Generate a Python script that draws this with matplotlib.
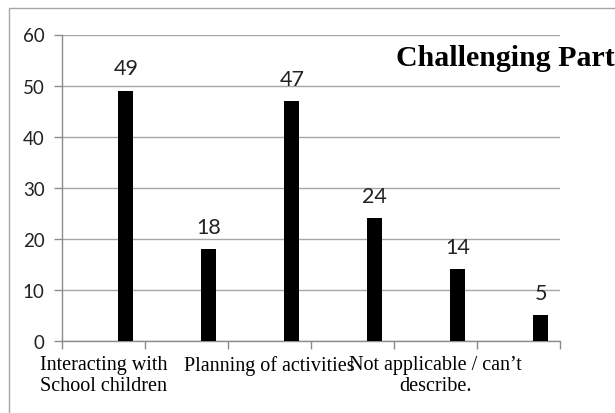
import numpy as np
import matplotlib
matplotlib.use("Agg")
import matplotlib.pyplot as plt
from matplotlib.patches import Rectangle

# responses per category; only every other label fits under the axis
categories = ["Interacting with\nSchool children", "",
              "Planning of activities", "",
              "Not applicable / can\u2019t\ndescribe.", ""]
counts = [49, 18, 47, 24, 14, 5]
yticks = [0, 10, 20, 30, 40, 50, 60]

grid_grey = "#a6a6a6"
axis_grey = "#8c8c8c"

fig = plt.figure(figsize=(6.15, 4.14), dpi=100)
ax = fig.add_axes([62 / 615, 1 - 342 / 414, (560 - 62) / 615, (342 - 35.5) / 414])

# outer chart-area border (only the left and top edges fall inside the image)
fig.patches.append(Rectangle((9.3 / 615, -0.1), 1.2, 1 - 9.3 / 414 + 0.1,
                             transform=fig.transFigure, fill=False,
                             edgecolor=grid_grey, linewidth=1.0))

x = np.arange(len(counts))
bars = ax.bar(x + 0.27, counts, width=0.18, color="black", zorder=3)

for b, v in zip(bars, counts):
    ax.annotate(str(v), (b.get_x() + b.get_width() / 2, v),
                xytext=(0, 11.8), textcoords="offset points",
                ha="center", va="baseline", fontsize=15.5, family="Lato",
                color="#222222")

ax.set_xlim(-0.5, len(counts) - 0.5)
ax.set_ylim(0, 60)
ax.set_yticks(yticks)
ax.yaxis.grid(True, color=grid_grey, linewidth=1.0, zorder=0)
ax.set_axisbelow(True)

for lbl in ax.get_yticklabels():
    lbl.set_family("Lato")
    lbl.set_fontsize(13.5)
    lbl.set_color("#222222")
ax.tick_params(axis="y", length=5.5, width=1.0, color=axis_grey, pad=7)

# category boundaries carry the tick marks, labels sit at the centres
ax.set_xticks(x)
ax.set_xticklabels(categories, family="Liberation Serif", fontsize=14.5,
                   linespacing=1.15)
ax.set_xticks(np.arange(len(counts) + 1) - 0.5, minor=True)
ax.tick_params(axis="x", which="major", length=0, pad=10)
ax.tick_params(axis="x", which="minor", length=5.5, width=1.0, color=axis_grey)

for side in ["top", "right"]:
    ax.spines[side].set_visible(False)
for side in ["left", "bottom"]:
    ax.spines[side].set_color(axis_grey)
    ax.spines[side].set_linewidth(1.0)

fig.text(396 / 615, 1 - 65.7 / 414, "Challenging Part", family="Liberation Serif",
         fontweight="bold", fontsize=21.5, ha="left", va="baseline")

fig.savefig("out.png", dpi=100)
